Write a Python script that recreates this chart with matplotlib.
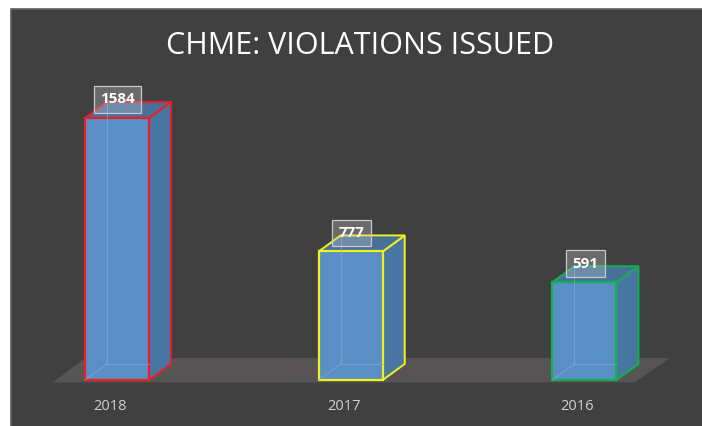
import matplotlib
matplotlib.use("Agg")
import matplotlib.pyplot as plt
from matplotlib.patches import Polygon, Rectangle

categories = ["2018", "2017", "2016"]
values = [1584, 777, 591]
edge_colors = ["#ee1c25", "#f2f21a", "#14b050"]
title = "CHME: VIOLATIONS ISSUED"

fig = plt.figure(figsize=(7.02, 4.26), dpi=100, facecolor="white")

ax = fig.add_axes([0, 0, 1, 1])
ax.set_facecolor("none")
ax.set_xlim(-0.5006, 2.503)
ax.set_ylim(-278, 2297)
ax.axis("off")

ax.add_patch(Rectangle((11/702, -0.01), 1 - 11/702 + 0.01, (426-9)/426 + 0.01, transform=fig.transFigure,
                       facecolor="#404040", edgecolor="#5e5e5e", linewidth=1.2, zorder=0))

w = 0.274          # bar width (category units)
dx, dy = 0.094, 97  # depth offset

# floor
n = len(categories)
fl = [(-0.275, -15), (n - 1 + 0.215, -15), (n - 1 + 0.365, 133), (-0.137, 133)]
ax.add_patch(Polygon(fl, closed=True, facecolor="#565454", edgecolor="none", zorder=1))

for i, (v, ec) in enumerate(zip(values, edge_colors)):
    x0, x1 = i - w/2, i + w/2
    # side face
    side = [(x1, 0), (x1 + dx, dy), (x1 + dx, v + dy), (x1, v)]
    ax.add_patch(Polygon(side, closed=True, facecolor="#4876a3", edgecolor=ec, lw=1.4, zorder=3))
    # top face
    top = [(x0, v), (x1, v), (x1 + dx, v + dy), (x0 + dx, v + dy)]
    ax.add_patch(Polygon(top, closed=True, facecolor="#47709a", edgecolor=ec, lw=1.4, zorder=3))
    # front face
    ax.add_patch(Rectangle((x0, 0), w, v, facecolor="#5a8fc5", edgecolor=ec, lw=1.6, zorder=4))
    # faint hidden back edges seen through the bar
    ax.plot([x0 + dx, x0 + dx], [dy, v + dy], color="#86acd2", lw=0.8, alpha=0.6, zorder=5)
    ax.plot([x0 + dx, x1], [dy, dy], color="#86acd2", lw=0.8, alpha=0.6, zorder=5)
    ax.plot([x0, x0 + dx], [0, dy], color="#86acd2", lw=0.8, alpha=0.6, zorder=5)
    # value label
    ax.text(i + 0.003, v + 112, f"{v}", ha="center", va="center", color="white", fontsize=11,
            fontweight="bold", family="Open Sans", zorder=6,
            bbox=dict(boxstyle="square,pad=0.42", facecolor=(0.8, 0.8, 0.8, 0.3),
                      edgecolor="#c8c8c8", lw=0.9))
    # category label
    ax.text(i - 0.03, -163, categories[i], ha="center", va="center", color="#d0d0d0",
            fontsize=10.5, family="Open Sans", zorder=6)

ax.text(360/702, 1 - 46/426, title, ha="center", va="center", color="white",
        fontsize=22, family="Open Sans", transform=fig.transFigure, zorder=6)

fig.savefig("out.png", dpi=100, facecolor="white")
